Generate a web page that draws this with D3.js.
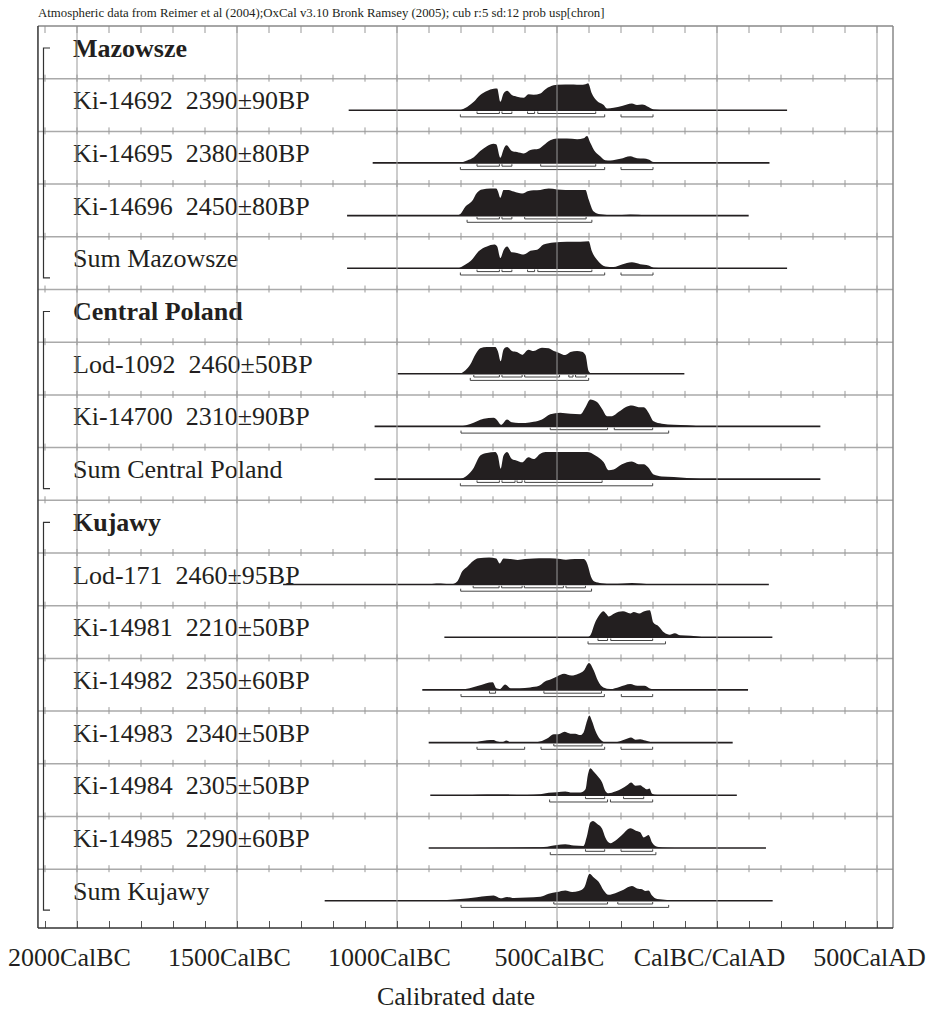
<!DOCTYPE html>
<html>
<head>
<meta charset="utf-8">
<script src="https://cdn.jsdelivr.net/npm/d3@7"></script>
<style>
  body { margin: 0; background: #fff; }
  svg { display: block; }
  text { font-family: "Liberation Serif", "Times New Roman", serif; fill: #231f20; }
</style>
</head>
<body>
<svg width="929" height="1011"></svg>
<script>
///////////////////////////////////////////////////////
// DATA
///////////////////////////////////////////////////////

// row labels, top to bottom; header rows have no data
const rowLabels = [
  "Mazowsze", "Ki-14692  2390±90BP", "Ki-14695  2380±80BP", "Ki-14696  2450±80BP", "Sum Mazowsze",
  "Central Poland", "Lod-1092  2460±50BP", "Ki-14700  2310±90BP", "Sum Central Poland",
  "Kujawy", "Lod-171  2460±95BP", "Ki-14981  2210±50BP", "Ki-14982  2350±60BP",
  "Ki-14983  2340±50BP", "Ki-14984  2305±50BP", "Ki-14985  2290±60BP", "Sum Kujawy"
];
const headerRows = [0, 5, 9];
const groups = [[0, 4], [5, 8], [9, 16]]; // first/last row of each bracket

// probability densities, [year (negative = BC), relative height]
const ki14692 = [[-802,0],[-781,.12],[-760,.31],[-740,.56],[-719,.71],[-698,.79],[-687,.8],[-677,.31],[-667,.62],[-656,.72],[-641,.56],[-625,.5],[-604,.46],[-589,.59],[-573,.57],[-552,.62],[-536,.78],[-521,.875],[-500,.94],[-448,.95],[-427,.94],[-411,.96],[-403,1],[-391,.62],[-377,.37],[-354,.19],[-344,.06],[-323,.09],[-297,.16],[-266,.25],[-250,.19],[-234,.21],[-214,.12],[-198,.03],[-156,0]];
const ki14695 = [[-802,0],[-781,.09],[-760,.21],[-740,.44],[-719,.62],[-698,.71],[-690,.69],[-677,.19],[-667,.5],[-658,.65],[-641,.44],[-625,.4],[-604,.35],[-583,.475],[-557,.52],[-542,.65],[-521,.84],[-500,.9],[-469,.9],[-437,.875],[-417,.91],[-406,1],[-396,.75],[-380,.4],[-365,.25],[-349,.1],[-333,.09],[-302,.15],[-271,.25],[-250,.175],[-229,.16],[-214,.125],[-198,.03],[-167,0]];
const ki14696 = [[-812,0],[-802,.06],[-786,.34],[-766,.53],[-750,.85],[-734,.97],[-708,1],[-690,1],[-685,.91],[-677,.66],[-667,.95],[-651,.95],[-635,.89],[-609,.82],[-589,.91],[-573,.94],[-552,.95],[-526,1],[-500,.97],[-448,.95],[-411,.95],[-401,.6],[-385,.15],[-365,.05],[-323,.01],[-271,.04],[-219,0]];
const sumMazowsze = [[-807,0],[-786,.14],[-766,.32],[-745,.63],[-719,.81],[-696,.88],[-687,.81],[-677,.38],[-667,.67],[-656,.81],[-641,.59],[-625,.57],[-604,.51],[-583,.65],[-562,.69],[-542,.88],[-510,.96],[-469,.98],[-427,.98],[-401,1],[-391,.63],[-375,.32],[-349,.07],[-323,.05],[-297,.14],[-266,.22],[-240,.15],[-214,.1],[-198,.02],[-167,0]];
const lod1092 = [[-802,0],[-786,.125],[-771,.34],[-755,.71],[-740,.94],[-719,.99],[-693,.99],[-685,.84],[-676,.46],[-667,.9],[-656,.99],[-641,.84],[-625,.8],[-609,.7],[-589,.89],[-573,.84],[-547,.96],[-526,.94],[-510,.84],[-495,.78],[-474,.69],[-458,.8],[-437,.84],[-422,.81],[-411,.69],[-401,.09],[-391,0]];
const ki14700 = [[-802,0],[-771,.09],[-750,.19],[-729,.28],[-698,.32],[-687,.23],[-675,.06],[-656,.26],[-641,.15],[-620,.13],[-599,.13],[-573,.17],[-547,.26],[-521,.45],[-490,.51],[-458,.47],[-427,.45],[-411,.71],[-396,1],[-375,.9],[-359,.64],[-344,.38],[-328,.38],[-307,.54],[-286,.71],[-266,.77],[-245,.71],[-229,.71],[-214,.51],[-198,.19],[-172,.1],[-135,.06],[-94,.04],[-52,0]];
const sumCentralPoland = [[-802,0],[-781,.13],[-760,.42],[-740,.87],[-719,.97],[-693,1],[-685,.87],[-676,.38],[-667,.87],[-656,1],[-641,.74],[-625,.68],[-609,.62],[-589,.81],[-573,.74],[-552,.94],[-536,1],[-448,1],[-406,1],[-380,.87],[-354,.62],[-339,.33],[-323,.36],[-297,.55],[-266,.65],[-245,.55],[-229,.55],[-214,.42],[-198,.17],[-172,.1],[-135,.08],[-94,.04],[-52,0]];
const lod171 = [[-1356,0],[-919,.01],[-863,.04],[-829,.01],[-812,.11],[-796,.49],[-779,.68],[-762,.87],[-746,.97],[-712,1],[-690,.96],[-679,.78],[-667,.96],[-645,.94],[-623,.91],[-600,.94],[-573,.96],[-539,.97],[-506,.96],[-472,.92],[-444,.94],[-416,.94],[-405,.75],[-394,.3],[-383,.11],[-361,.05],[-327,.025],[-294,.04],[-266,.06],[-238,.04],[-204,0]];
const ki14981 = [[-403,0],[-394,.11],[-383,.48],[-366,.85],[-355,.96],[-347,.88],[-338,.77],[-321,.88],[-294,.96],[-271,.88],[-260,.93],[-243,.88],[-227,.96],[-210,1],[-199,.54],[-182,.4],[-165,.17],[-148,.09],[-132,.15],[-115,.07],[-82,.05],[-48,.01],[-26,0]];
const ki14982 = [[-807,0],[-773,.06],[-746,.15],[-723,.24],[-701,.28],[-690,.06],[-679,.03],[-662,.2],[-645,.06],[-617,.06],[-584,.09],[-556,.15],[-539,.3],[-517,.4],[-500,.5],[-478,.6],[-455,.53],[-433,.6],[-416,.72],[-400,1],[-385,.72],[-372,.34],[-355,.09],[-333,.03],[-305,.11],[-271,.22],[-249,.15],[-227,.15],[-210,.05],[-193,0]];
const ki14983 = [[-760,0],[-740,.05],[-719,.09],[-698,.1],[-687,.04],[-672,.01],[-658,.075],[-646,.01],[-615,.01],[-573,.01],[-547,.06],[-531,.15],[-510,.31],[-495,.31],[-477,.4],[-458,.33],[-443,.33],[-427,.28],[-417,.375],[-406,.81],[-399,1],[-391,.81],[-380,.44],[-365,.125],[-349,.01],[-312,.025],[-286,.125],[-269,.19],[-255,.11],[-240,.125],[-224,.075],[-208,.025],[-198,0]];
const ki14984 = [[-781,0],[-719,.025],[-656,.025],[-594,.01],[-552,.04],[-526,.09],[-500,.11],[-474,.14],[-453,.1],[-427,.1],[-411,.22],[-404,.72],[-396,1],[-385,.87],[-372,.7],[-359,.475],[-349,.16],[-339,.075],[-318,.14],[-297,.25],[-281,.375],[-268,.475],[-255,.35],[-240,.375],[-229,.29],[-219,.22],[-211,.25],[-203,.06],[-187,.01],[-167,0]];
const ki14985 = [[-781,0],[-677,.01],[-573,.025],[-531,.05],[-500,.11],[-474,.14],[-448,.09],[-417,.075],[-406,.46],[-396,.94],[-388,1],[-375,.9],[-359,.71],[-349,.39],[-333,.18],[-318,.27],[-297,.48],[-271,.73],[-255,.65],[-240,.58],[-229,.39],[-214,.48],[-203,.2],[-187,.05],[-156,.01],[-104,0]];
const sumKujawy = [[-885,0],[-802,.06],[-750,.13],[-719,.17],[-698,.19],[-677,.09],[-656,.14],[-635,.1],[-594,.12],[-552,.15],[-526,.26],[-500,.32],[-474,.38],[-453,.32],[-432,.36],[-415,.49],[-398,1],[-385,.86],[-370,.7],[-354,.38],[-339,.22],[-318,.28],[-292,.41],[-266,.54],[-250,.45],[-234,.42],[-224,.36],[-214,.38],[-203,.19],[-187,.06],[-156,.03],[-104,0]];

// extent of each sample's horizontal line [from, to]
const lineRanges = [
  null, [-1151, 219], [-1076, 164], [-1156, 99], [-1156, 219],
  null, [-998, -102], [-1070, 323], [-1070, 323],
  null, [-1356, 162], [-852, 173], [-921, 97], [-901, 49], [-896, 62], [-901, 153], [-1226, 174]
];
// 68.2% and 95.4% probability ranges
const hpd68 = [
  null, [[-750,-680],[-672,-641],[-592,-570],[-560,-379]], [[-750,-680],[-672,-641],[-551,-379]],
  [[-750,-680],[-672,-641],[-601,-409]], [[-750,-680],[-672,-641],[-592,-570],[-560,-391]],
  null, [[-760,-680],[-672,-609],[-601,-492],[-463,-450],[-442,-409]], [[-521,-342],[-321,-201]],
  [[-750,-680],[-672,-631],[-625,-609],[-601,-359]],
  null, [[-762,-681],[-673,-609],[-602,-480],[-472,-411]], [[-372,-342],[-332,-201]],
  [[-711,-692],[-541,-361]], [[-510,-359]], [[-411,-351],[-292,-229]], [[-411,-351],[-300,-201]],
  [[-510,-342],[-310,-201]]
];
const hpd95 = [
  null, [[-802,-351],[-300,-200]], [[-802,-351],[-300,-200]], [[-781,-391]], [[-802,-351],[-300,-200]],
  null, [[-771,-401]], [[-800,-151]], [[-802,-201]],
  null, [[-801,-392]], [[-403,-161]], [[-800,-352],[-299,-201]], [[-750,-601],[-550,-351],[-300,-201]],
  [[-523,-342],[-333,-201]], [[-521,-191]], [[-800,-151]]
];
const densities = [
  null, ki14692, ki14695, ki14696, sumMazowsze,
  null, lod1092, ki14700, sumCentralPoland,
  null, lod171, ki14981, ki14982, ki14983, ki14984, ki14985, sumKujawy
];

const majorTicks = [-2000, -1500, -1000, -500, 0, 500];
const tickLabels = ["2000CalBC", "1500CalBC", "1000CalBC", "500CalBC", "CalBC/CalAD", "500CalAD"];
const minorTicks = d3.range(-2100, 501, 100);

///////////////////////////////////////////////////////
// SETUP
///////////////////////////////////////////////////////
const svg = d3.select("svg");
const plotTop = 26, rowH = 52.7, plotBottom = 928;
const xScale = d3.scaleLinear().domain([-2000, 500]).range([77, 877]);
const plotLeft = xScale(-2122), plotRight = xScale(550);
const rowTop = i => plotTop + i * rowH;
const peakH = 27;

svg.append("text")
  .attr("x", 38).attr("y", 17)
  .style("font-size", "12.8px")
  .text("Atmospheric data from Reimer et al (2004);OxCal v3.10 Bronk Ramsey (2005); cub r:5 sd:12 prob usp[chron]");

// distributions
const rows = svg.append("g").attr("class", "rows");
densities.forEach((dens, i) => {
  const g = rows.append("g").attr("transform", "translate(0," + rowTop(i) + ")");
  g.append("text")
    .attr("x", 73).attr("y", 30.5)
    .attr("xml:space", "preserve")
    .style("white-space", "pre")
    .style("font-size", "26px")
    .style("font-weight", headerRows.includes(i) ? "bold" : "normal")
    .text(rowLabels[i]);
  if (!dens) return;
  const base = 31.5;
  const yH = d3.scaleLinear().domain([0, 1]).range([base, base - peakH]);
  g.append("path")
    .datum(dens)
    .attr("fill", "#231f20")
    .attr("d", d3.area().x(d => xScale(d[0])).y0(base).y1(d => yH(d[1])).curve(d3.curveMonotoneX));
  g.append("line")
    .attr("x1", xScale(lineRanges[i][0])).attr("x2", xScale(lineRanges[i][1]))
    .attr("y1", base).attr("y2", base)
    .attr("stroke", "#231f20").attr("stroke-width", 1.6);
  const bracket = (ranges, off, h) => ranges.forEach(r => {
    const x0 = xScale(r[0]), x1 = xScale(r[1]), yy = base + off;
    g.append("path")
      .attr("d", `M${x0},${yy - h}V${yy}H${x1}V${yy - h}`)
      .attr("fill", "none").attr("stroke", "#444").attr("stroke-width", 1);
  });
  bracket(hpd68[i], 3.3, 2);
  bracket(hpd95[i], 6.7, 2.5);
});

// grid
const grid = svg.append("g").attr("class", "grid");
grid.selectAll(".major").data(majorTicks).enter().append("line")
  .attr("x1", d => xScale(d)).attr("x2", d => xScale(d))
  .attr("y1", plotTop).attr("y2", plotBottom)
  .attr("stroke", "#999").attr("stroke-width", 1);
d3.range(1, rowLabels.length).forEach(i => {
  grid.append("line")
    .attr("x1", plotLeft).attr("x2", plotRight).attr("y1", rowTop(i)).attr("y2", rowTop(i))
    .attr("stroke", "#aaa").attr("stroke-width", 1.5);
  grid.selectAll(null).data(minorTicks).enter().append("line")
    .attr("x1", d => xScale(d)).attr("x2", d => xScale(d))
    .attr("y1", rowTop(i) - 4).attr("y2", rowTop(i) + 3)
    .attr("stroke", "#999");
});
grid.selectAll(null).data(minorTicks).enter().append("line")
  .attr("x1", d => xScale(d)).attr("x2", d => xScale(d))
  .attr("y1", plotTop).attr("y2", plotTop + 7)
  .attr("stroke", "#999");
grid.append("line").attr("x1", plotLeft).attr("x2", plotRight).attr("y1", plotTop).attr("y2", plotTop)
  .attr("stroke", "#888").attr("stroke-width", 1.5);
grid.append("line").attr("x1", plotRight).attr("x2", plotRight).attr("y1", plotTop).attr("y2", plotBottom)
  .attr("stroke", "#888").attr("stroke-width", 1.5);
grid.append("line").attr("x1", plotLeft).attr("x2", plotLeft).attr("y1", plotTop).attr("y2", plotBottom)
  .attr("stroke", "#333").attr("stroke-width", 1.5);

// group brackets on the left
groups.forEach(gr => {
  const y0 = rowTop(gr[0]) + 22, y1 = rowTop(gr[1]) + 41;
  svg.append("path")
    .attr("d", `M50,${y0}H43.5V${y1}H50`)
    .attr("fill", "none").attr("stroke", "#333").attr("stroke-width", 1.2);
});

// bottom axis
const xAxisMinor = d3.axisBottom(xScale).tickValues(minorTicks).tickSize(-7).tickFormat("");
const minorGroup = svg.append("g")
  .attr("transform", "translate(0," + plotBottom + ")")
  .call(xAxisMinor);
minorGroup.select(".domain").remove();
minorGroup.selectAll("line").attr("stroke", "#555");
svg.append("line").attr("x1", plotLeft).attr("x2", plotRight).attr("y1", plotBottom).attr("y2", plotBottom)
  .attr("stroke", "#333").attr("stroke-width", 1.5);

const xAxis = d3.axisBottom(xScale)
  .tickValues(majorTicks)
  .tickSize(0)
  .tickPadding(20)
  .tickFormat((d, i) => tickLabels[i]);
const xAxisGroup = svg.append("g")
  .attr("transform", "translate(0," + plotBottom + ")")
  .call(xAxis);
xAxisGroup.select(".domain").remove();
xAxisGroup.selectAll("text")
  .attr("dx", -8)
  .attr("dy", 0)
  .attr("y", 38)
  .style("font-family", "'Liberation Serif', 'Times New Roman', serif")
  .style("font-size", "26px")
  .attr("fill", "#231f20");

svg.append("text")
  .attr("x", 456).attr("y", 1005)
  .attr("text-anchor", "middle")
  .style("font-size", "26px")
  .text("Calibrated date");
</script>
</body>
</html>
